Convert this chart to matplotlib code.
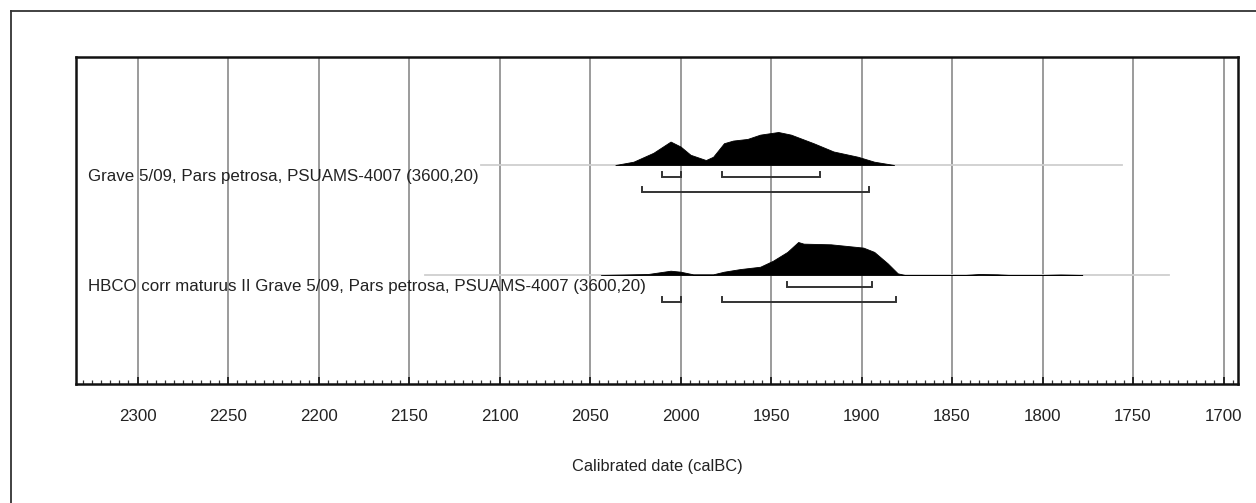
"""OxCal-style multiplot of two calibrated radiocarbon dates."""

import matplotlib

matplotlib.use("Agg")
import matplotlib.pyplot as plt
from matplotlib.lines import Line2D
from matplotlib.ticker import MultipleLocator

plt.rcParams["font.family"] = ["Liberation Sans", "DejaVu Sans"]

# --- data ------------------------------------------------------------------
labels = [
    "Grave 5/09, Pars petrosa, PSUAMS-4007 (3600,20)",
    "HBCO corr maturus II Grave 5/09, Pars petrosa, PSUAMS-4007 (3600,20)",
]

# calibrated probability (relative, max = 100), years calBC
years_1 = [2036, 2026, 2015, 2005.5, 2000, 1994.5, 1986, 1982, 1976, 1971,
           1963, 1956, 1946, 1939, 1926.5, 1915.5, 1902, 1893, 1882]
prob_1 = [0, 10, 37, 71, 56, 31, 15, 25, 66, 74,
          79, 92, 100, 92, 66, 41, 25, 10, 0]

years_2 = [2044, 2018, 2005.5, 2000, 1993, 1982, 1976, 1967, 1956, 1949,
           1941, 1935, 1932, 1917, 1899, 1893, 1885.5, 1880, 1876,
           1850, 1843, 1835, 1825, 1818, 1800, 1790, 1778]
prob_2 = [0, 3, 13, 10, 2, 2, 10, 18, 25, 43,
          70, 100, 95, 93, 83, 70, 35, 5, 0,
          0, 0, 3, 2, 0, 0, 1.5, 0]

# extent of the thin grey baseline for each date
span_1 = (2110, 1756)
span_2 = (2141, 1730)

# highest posterior density ranges
hpd68_1 = [(2010.5, 2000), (1977, 1923)]
hpd95_1 = [(2021.5, 1896)]
hpd68_2 = [(1941, 1894)]
hpd95_2 = [(2010, 1999.5), (1977, 1881)]

years = [years_1, years_2]
probs = [prob_1, prob_2]
spans = [span_1, span_2]
hpd68 = [hpd68_1, hpd68_2]
hpd95 = [hpd95_1, hpd95_2]

# --- figure ----------------------------------------------------------------
W, H = 1256, 503
fig = plt.figure(figsize=(W / 100, H / 100), dpi=100)

# outer frame (only top and left edges fall inside the image)
fx, fy = 11 / W, 1 - 11 / H
fig.add_artist(Line2D([fx, fx], [0, fy], color="#333333", lw=1.3))
fig.add_artist(Line2D([fx, 1], [fy, fy], color="#333333", lw=1.3))

ax = fig.add_axes([76 / W, (H - 384) / H, (1238 - 76) / W, (384 - 57) / H])
ax.set_xlim(2334, 1692)
ax.set_ylim(384, 57)  # vertical axis in pixel-like units, top down
ax.set_yticks([])

for s in ax.spines.values():
    s.set_linewidth(1.8)
    s.set_color("#111111")

ax.xaxis.set_major_locator(MultipleLocator(50))
ax.xaxis.set_minor_locator(MultipleLocator(5))
ax.tick_params(axis="x", which="major", direction="in", length=5, width=1.2,
               pad=18, labelsize=12.2, colors="#111111", labelcolor="#222222")
ax.tick_params(axis="x", which="minor", direction="in", length=2.6, width=0.9,
               colors="#333333")
ax.grid(axis="x", which="major", color="#808080", lw=1.1)
ax.set_axisbelow(True)
ax.set_xlabel("Calibrated date (calBC)", fontsize=11.8, color="#222222",
              labelpad=25)

bases = [165, 275]
scale = 0.33  # pixel height per unit of relative probability
for i, base in enumerate(bases):
    ax.plot(spans[i], [base, base], color="#cfcfcf", lw=1.3, zorder=2)
    ax.fill_between(years[i], [base - scale * p for p in probs[i]], base,
                    color="black", lw=0.6, zorder=3)
    ax.text(0.0103, base + 11, labels[i], transform=ax.get_yaxis_transform(),
            ha="left", va="center", fontsize=12.2, color="#222222", zorder=4)
    for rng, y in ((hpd68[i], base + 12), (hpd95[i], base + 27)):
        for a, b in rng:
            ax.plot([a, a, b, b], [y - 5, y, y, y - 5], color="#333333",
                    lw=1.4, zorder=4, solid_joinstyle="miter")

fig.savefig("out.png", dpi=100)
